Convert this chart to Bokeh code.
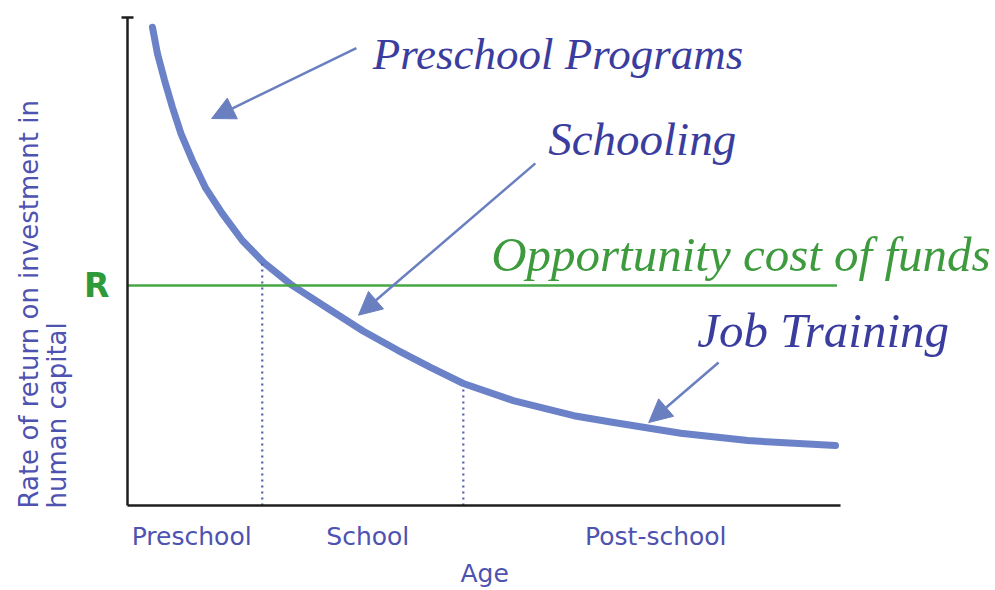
from bokeh.plotting import figure
from bokeh.models import Label, Arrow, NormalHead, FixedTicker, Range1d, Title
from bokeh.embed import file_html
from bokeh.resources import INLINE

# ---- data ----
age_x = [0.35, 0.42, 0.52, 0.63, 0.75, 0.91, 1.09, 1.33, 1.61, 1.91, 2.31,
         2.85, 3.31, 3.79, 4.25, 4.71, 5.41, 6.26, 6.82, 7.76, 8.70, 9.93]
return_y = [9.80, 9.26, 8.71, 8.16, 7.62, 7.07, 6.52, 5.98, 5.43, 4.98, 4.51,
            4.00, 3.57, 3.18, 2.83, 2.50, 2.15, 1.84, 1.70, 1.48, 1.33, 1.23]
R_value = 4.51
r_line_x = [0.0, 9.95]
boundary_x = [1.89, 4.71]
boundary_top = [4.98, 2.46]
stage_x = [0.90, 3.37, 7.41]
stage_labels = ["Preschool", "School", "Post-school"]

# annotation arrows (start -> tip)
arrow_x0 = [3.21, 5.72, 8.29]
arrow_y0 = [9.37, 7.01, 2.93]
arrow_x1 = [1.18, 3.24, 7.31]
arrow_y1 = [7.93, 3.90, 1.70]

BLUE_TXT = "#3a3d9e"
GREEN_TXT = "#3d9a3d"
AXIS_TXT = "#4e52b0"
CURVE = "#6b82c8"
ARROW_C = "#6a7fc0"
GREEN_LINE = "#45a845"

p = figure(width=994, height=590, x_range=Range1d(0, 12.16), y_range=Range1d(0, 10),
           output_backend="svg", toolbar_location=None,
           min_border_left=127, min_border_right=0, min_border_top=17,
           min_border_bottom=85)
p.outline_line_color = None
p.xgrid.visible = False
p.ygrid.visible = False
p.background_fill_color = "white"
p.border_fill_color = "white"

# curve
p.line(age_x, return_y, line_width=7, color=CURVE, line_cap="round", line_join="round")
# opportunity cost line
p.line(r_line_x, [R_value, R_value], line_width=2.5, color=GREEN_LINE)
# dotted boundaries
p.segment(x0=boundary_x, y0=[0, 0], x1=boundary_x, y1=boundary_top,
          line_color="#5060ac", line_width=2.2, line_dash="2 4")

# x axis
xa = p.xaxis[0]
xa.bounds = (0, 10)
xa.ticker = FixedTicker(ticks=stage_x)
xa.major_label_overrides = {x: t for x, t in zip(stage_x, stage_labels)}
xa.major_tick_line_color = None
xa.minor_tick_line_color = None
xa.axis_line_width = 2.5
xa.axis_line_color = "#1e1e1e"
xa.major_label_text_font = "DejaVu Sans"
xa.major_label_text_font_size = "25px"
xa.major_label_text_color = AXIS_TXT
xa.major_label_standoff = 10

# "Age" title under the axis, placed under the middle of the axis
p.add_layout(Title(text="Age", align="left", offset=333, text_font="DejaVu Sans",
                   text_font_size="25px", text_font_style="normal",
                   text_color=AXIS_TXT, standoff=6), "below")

# y axis
ya = p.yaxis[0]
ya.ticker = FixedTicker(ticks=[R_value], minor_ticks=[10])
ya.major_label_overrides = {R_value: "R"}
ya.major_tick_line_color = None
ya.minor_tick_in = 6
ya.minor_tick_out = 6
ya.minor_tick_line_width = 2.5
ya.minor_tick_line_color = "#1e1e1e"
ya.axis_line_width = 2.5
ya.axis_line_color = "#1e1e1e"
ya.major_label_text_font = "DejaVu Sans"
ya.major_label_text_font_size = "33px"
ya.major_label_text_font_style = "bold"
ya.major_label_text_color = "#2f9a3a"
ya.major_label_standoff = 12

# y-axis title in two lines (left aligned from the bottom)
p.add_layout(Title(text="Rate of return on investment in\nhuman capital", align="left",
                   offset=-3, text_font="DejaVu Sans", text_font_size="26px",
                   text_font_style="normal", text_color=AXIS_TXT, standoff=19,
                   text_line_height=0.95), "left")

# italic annotations
def note(x, y, txt, size, color):
    p.add_layout(Label(x=x, y=y, text=txt, text_font="Liberation Serif",
                       text_font_style="italic", text_font_size=size,
                       text_color=color, text_align="left", text_baseline="alphabetic"))

note(3.44, 9.26, "Preschool Programs", "45px", BLUE_TXT)
note(5.90, 7.52, "Schooling", "47px", BLUE_TXT)
note(5.10, 5.14, "Opportunity cost of funds", "49px", GREEN_TXT)
note(7.99, 3.59, "Job Training", "49px", BLUE_TXT)

for xs, ys, xe, ye in zip(arrow_x0, arrow_y0, arrow_x1, arrow_y1):
    p.add_layout(Arrow(end=NormalHead(size=23, fill_color=ARROW_C, line_color=ARROW_C),
                       x_start=xs, y_start=ys, x_end=xe, y_end=ye,
                       line_color=ARROW_C, line_width=2.5))

open("out.html", "w").write(file_html(p, INLINE))
